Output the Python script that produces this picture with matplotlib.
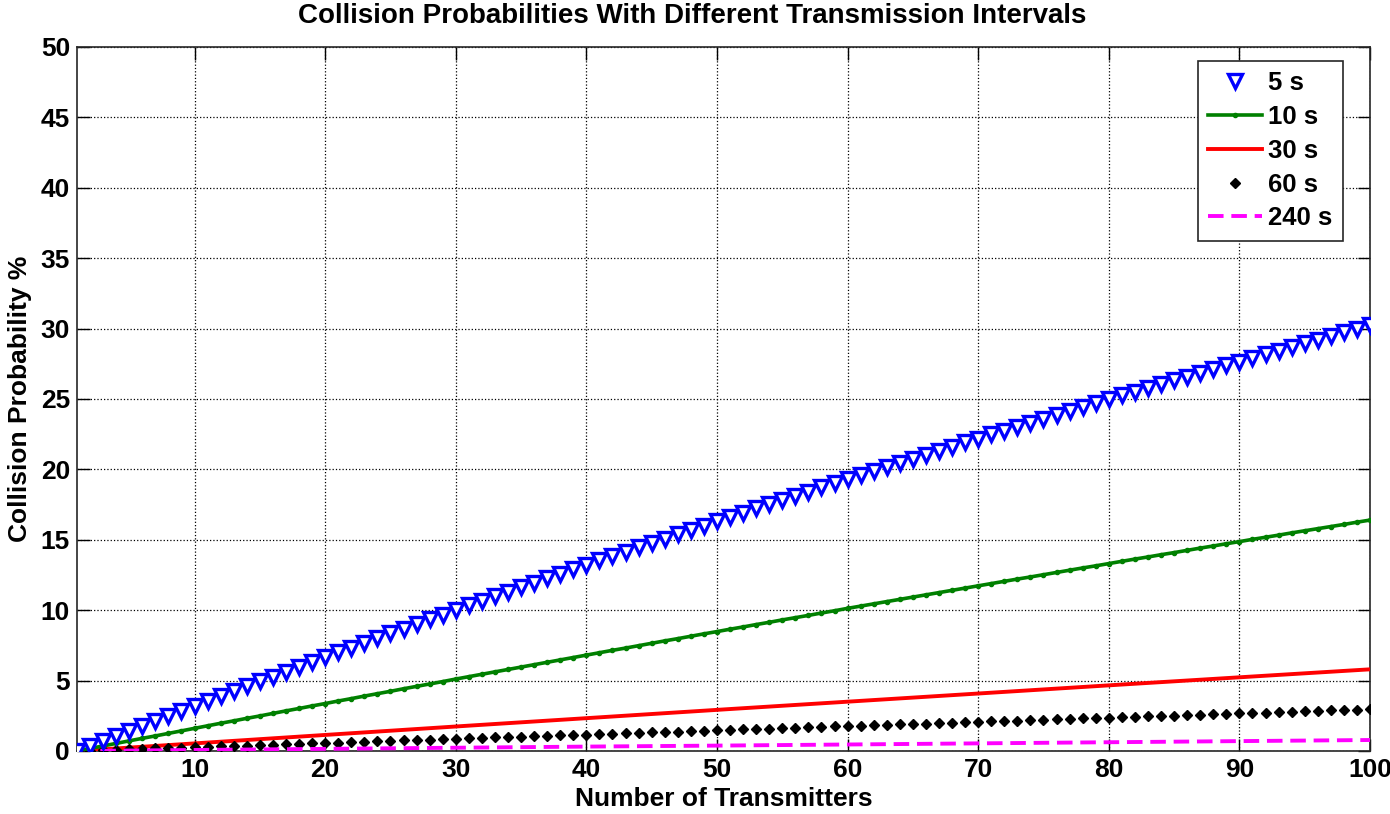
import numpy as np
import matplotlib.pyplot as plt

# transmitters on the x axis
n_all = list(range(1, 101))
n_sparse = [1, 11, 21, 31, 41, 51, 61, 71, 81, 91, 100]

# collision probability (%)
p_5s = [0.00, 0.36, 0.73, 1.09, 1.45, 1.80, 2.16, 2.52, 2.87, 3.22,
        3.57, 3.92, 4.26, 4.60, 4.95, 5.29, 5.64, 5.98, 6.32, 6.67,
        7.02, 7.35, 7.68, 8.01, 8.35, 8.68, 9.01, 9.35, 9.68, 10.01,
        10.34, 10.66, 10.98, 11.30, 11.62, 11.94, 12.26, 12.58, 12.90, 13.22,
        13.54, 13.85, 14.16, 14.47, 14.78, 15.09, 15.39, 15.70, 16.01, 16.32,
        16.63, 16.93, 17.23, 17.52, 17.82, 18.12, 18.42, 18.72, 19.01, 19.31,
        19.61, 19.90, 20.18, 20.47, 20.76, 21.05, 21.33, 21.62, 21.91, 22.19,
        22.48, 22.76, 23.03, 23.31, 23.59, 23.87, 24.14, 24.42, 24.70, 24.97,
        25.25, 25.52, 25.78, 26.05, 26.32, 26.59, 26.85, 27.12, 27.39, 27.65,
        27.92, 28.18, 28.44, 28.69, 28.95, 29.21, 29.47, 29.73, 29.98, 30.24]

p_10s = [0.00, 0.18, 0.36, 0.54, 0.72, 0.90, 1.07, 1.25, 1.43, 1.61,
         1.79, 1.97, 2.14, 2.32, 2.49, 2.67, 2.85, 3.02, 3.20, 3.37,
         3.55, 3.72, 3.90, 4.07, 4.24, 4.42, 4.59, 4.76, 4.93, 5.11,
         5.28, 5.45, 5.62, 5.79, 5.96, 6.13, 6.30, 6.47, 6.64, 6.81,
         6.98, 7.15, 7.31, 7.48, 7.65, 7.82, 7.98, 8.15, 8.32, 8.48,
         8.65, 8.81, 8.98, 9.14, 9.31, 9.47, 9.63, 9.80, 9.96, 10.13,
         10.29, 10.45, 10.61, 10.77, 10.93, 11.09, 11.25, 11.41, 11.57, 11.73,
         11.89, 12.05, 12.21, 12.36, 12.52, 12.68, 12.84, 13.00, 13.15, 13.31,
         13.47, 13.63, 13.78, 13.94, 14.09, 14.25, 14.41, 14.56, 14.72, 14.87,
         15.03, 15.18, 15.33, 15.49, 15.64, 15.79, 15.94, 16.09, 16.25, 16.40]

p_30s = [0.00, 0.60, 1.20, 1.80, 2.39, 2.98, 3.56, 4.14, 4.72, 5.29, 5.80]

p_60s = [0.00, 0.03, 0.06, 0.09, 0.12, 0.15, 0.18, 0.21, 0.24, 0.27,
         0.30, 0.33, 0.36, 0.39, 0.42, 0.45, 0.48, 0.51, 0.54, 0.57,
         0.60, 0.63, 0.66, 0.69, 0.72, 0.75, 0.78, 0.81, 0.84, 0.87,
         0.90, 0.93, 0.96, 0.99, 1.02, 1.05, 1.08, 1.11, 1.14, 1.17,
         1.20, 1.23, 1.26, 1.29, 1.32, 1.35, 1.38, 1.41, 1.44, 1.47,
         1.50, 1.53, 1.56, 1.59, 1.62, 1.65, 1.68, 1.71, 1.74, 1.77,
         1.80, 1.83, 1.86, 1.89, 1.92, 1.95, 1.98, 2.01, 2.04, 2.07,
         2.10, 2.13, 2.16, 2.19, 2.22, 2.25, 2.28, 2.31, 2.34, 2.37,
         2.40, 2.43, 2.46, 2.49, 2.52, 2.55, 2.58, 2.61, 2.64, 2.67,
         2.70, 2.73, 2.76, 2.79, 2.82, 2.85, 2.88, 2.91, 2.94, 2.97]

p_240s = [0.00, 0.08, 0.16, 0.24, 0.32, 0.39, 0.47, 0.55, 0.63, 0.71, 0.78]

x_ticks = list(range(10, 101, 10))
y_ticks = list(range(0, 51, 5))


def main():
    plt.rcParams['font.family'] = ['Liberation Sans', 'DejaVu Sans']
    plt.rcParams['font.weight'] = 'bold'

    fig = plt.figure(figsize=(13.9, 8.14), dpi=100)
    ax = fig.add_axes([0.0554, 0.0774, 0.9302, 0.8649])

    ax.plot(n_all, p_5s, linestyle='none', marker='v', markersize=10.5,
            markerfacecolor='white', markeredgecolor='#0000ff',
            markeredgewidth=2.4, label='5 s', zorder=5)
    ax.plot(n_all, p_10s, color='#008000', linewidth=2.6, marker='.',
            markersize=6, label='10 s', zorder=4)
    ax.plot(n_sparse, p_30s, color='#ff0000', linewidth=2.8, label='30 s', zorder=3)
    ax.plot(n_all, p_60s, linestyle='none', marker='D', markersize=4.6,
            color='black', label='60 s', zorder=3)
    ax.plot(n_sparse, p_240s, color='#ff00ff', linewidth=2.8,
            dashes=(4, 2), label='240 s', zorder=3)

    ax.set_xlim(1, 100)
    ax.set_ylim(0, 50)
    ax.set_xticks(x_ticks)
    ax.set_yticks(y_ticks)
    ax.grid(True, linestyle=':', color='black', linewidth=0.9)
    ax.tick_params(direction='in', length=9, width=1, top=True, right=True,
                   labelsize=19, pad=5)
    for s in ax.spines.values():
        s.set_color('#262626')
        s.set_linewidth(1.2)

    ax.set_title('Collision Probabilities With Different Transmission Intervals',
                 fontsize=20, fontweight='bold', pad=17, x=0.4756)
    ax.set_xlabel('Number of Transmitters', fontsize=19, fontweight='bold', labelpad=4)
    ax.set_ylabel('Collision Probability %', fontsize=19, fontweight='bold', labelpad=6)

    leg = ax.legend(loc='upper right', bbox_to_anchor=(0.979, 0.980), fontsize=18.5,
                    fancybox=False, edgecolor='#262626', framealpha=1,
                    handlelength=2.1, handletextpad=0.25, borderpad=0.4,
                    labelspacing=0.38, borderaxespad=0)
    leg.get_frame().set_linewidth(1.2)

    fig.savefig('out.png', dpi=100)


if __name__ == '__main__':
    main()
